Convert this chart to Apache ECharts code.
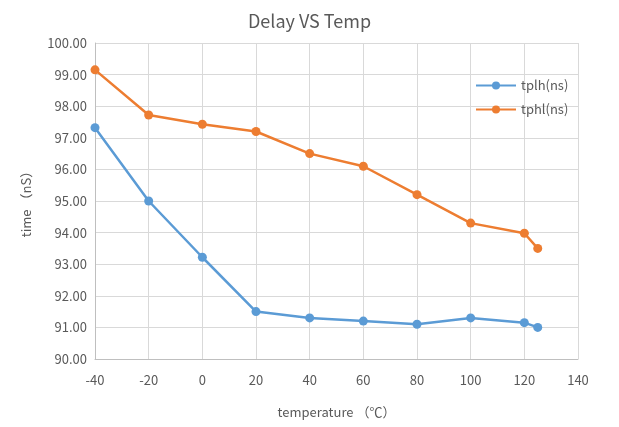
<!DOCTYPE html>
<html><head><meta charset="utf-8">
<script src="https://cdn.jsdelivr.net/npm/echarts@6/dist/echarts.min.js"></script>
<style>html,body{margin:0;padding:0;background:#fff}#c{width:619px;height:427px}</style>
</head><body><div id="c"></div>
<script>
const temps = [-40, -20, 0, 20, 40, 60, 80, 100, 120, 125];
const tplh = [97.32, 95.0, 93.22, 91.5, 91.3, 91.2, 91.1, 91.3, 91.15, 91.0];
const tphl = [99.15, 97.72, 97.43, 97.2, 96.5, 96.1, 95.2, 94.3, 93.98, 93.5];
const seriesNames = ['tplh(ns)', 'tphl(ns)'];
const chart = echarts.init(document.getElementById('c'));
const font = '"Noto Sans CJK SC", "Open Sans", sans-serif';
chart.setOption({
  animation: false,
  textStyle: {fontFamily: font},
  title: {text: 'Delay VS Temp', left: 'center', top: 7, textStyle: {fontSize: 18, fontWeight: 'normal', color: '#595959', fontFamily: font}},
  grid: {left: 95, right: 41, top: 43, bottom: 68},
  legend: {orient: 'vertical', left: 470, top: 74, itemWidth: 40, itemHeight: 10, itemGap: 11, itemStyle: {}, 
    textStyle: {color: '#595959', fontSize: 13, fontFamily: font}, data: seriesNames},
  xAxis: {type: 'value', min: -40, max: 140, interval: 20,
    name: 'temperature （℃）', nameLocation: 'middle', nameGap: 47,
    nameTextStyle: {color: '#595959', fontSize: 13, fontFamily: font},
    axisLine: {show: true, onZero: false, lineStyle: {color: '#bfbfbf'}}, axisTick: {show: false},
    axisLabel: {color: '#595959', fontSize: 13, margin: 15},
    splitLine: {show: true, lineStyle: {color: '#d9d9d9'}}},
  yAxis: {type: 'value', min: 90, max: 100, interval: 1,
    name: 'time （nS）', nameLocation: 'middle', nameGap: 62,
    nameTextStyle: {color: '#595959', fontSize: 13, fontFamily: font},
    axisLine: {show: true, onZero: false, lineStyle: {color: '#bfbfbf'}}, axisTick: {show: false},
    axisLabel: {color: '#595959', fontSize: 13, margin: 8, formatter: v => v.toFixed(2)},
    splitLine: {show: true, lineStyle: {color: '#d9d9d9'}}},
  series: [
    {name: seriesNames[0], type: 'line', data: temps.map((t, i) => [t, tplh[i]]),
     symbol: 'circle', symbolSize: 9, lineStyle: {width: 2.5, color: '#5B9BD5'}, itemStyle: {color: '#5B9BD5'}},
    {name: seriesNames[1], type: 'line', data: temps.map((t, i) => [t, tphl[i]]),
     symbol: 'circle', symbolSize: 9, lineStyle: {width: 2.5, color: '#ED7D31'}, itemStyle: {color: '#ED7D31'}}
  ]
});
</script></body></html>
